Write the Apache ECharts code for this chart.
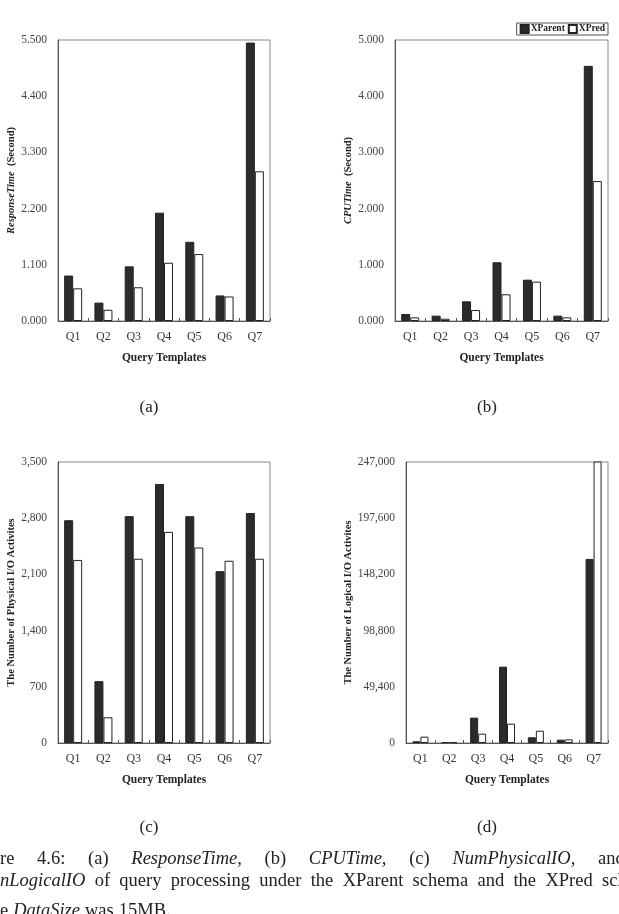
<!DOCTYPE html>
<html lang="en">
<head>
    <meta charset="UTF-8">
    <title>Figure 4.6</title>
    <style>
        * { margin: 0; }
        html, body, #chart { width: 100%; height: 100%; background: #fff; }
    </style>
</head>
<body>
    <div id="chart"></div>
    <script src="https://cdn.jsdelivr.net/npm/echarts@6/dist/echarts.min.js"></script>
    <script>
        var categories = ['Q1', 'Q2', 'Q3', 'Q4', 'Q5', 'Q6', 'Q7'];
        var seriesNames = ['XParent', 'XPred'];

        // (a) ResponseTime (second)
        var respParent = [0.89, 0.36, 1.07, 2.12, 1.55, 0.50, 5.45];
        var respPred = [0.64, 0.22, 0.66, 1.14, 1.31, 0.48, 2.93];
        // (b) CPUTime (second)
        var cpuParent = [0.125, 0.095, 0.35, 1.045, 0.735, 0.095, 4.54];
        var cpuPred = [0.065, 0.04, 0.195, 0.475, 0.70, 0.065, 2.49];
        // (c) physical I/O
        var physParent = [2775, 770, 2825, 3225, 2825, 2140, 2865];
        var physPred = [2280, 320, 2295, 2630, 2435, 2270, 2295];
        // (d) logical I/O (XPred Q7 goes off the top of the axis)
        var logParent = [1500, 800, 22300, 67100, 5000, 2900, 161700];
        var logPred = [5600, 800, 8200, 17000, 10800, 3200, 260000];

        // y axis ranges: max and step
        var yMax = [5.5, 5, 3500, 247000];
        var yStep = [1.1, 1, 700, 49400];

        var yNames = [
            '{i|ResponseTime}{b|  (Second)}',
            '{i|CPUTime}{b|  (Second)}',
            '{b|The Number of Physical I/O Activites}',
            '{b|The Number of Logical I/O Activites}'
        ];
        var panelLabels = ['(a)', '(b)', '(c)', '(d)'];

        // figure caption, cut by the page edges; words marked * are italic
        var capLine1 = ['re', '4.6:', '(a)', '*ResponseTime,', '(b)', '*CPUTime,', '(c)', '*NumPhysicalIO,', 'and'];
        var capLine2 = ['*nLogicalIO', 'of', 'query', 'processing', 'under', 'the', 'XParent', 'schema', 'and', 'the', 'XPred', 'schema'];
        var capLine3 = ['e', '*DataSize', 'was', '15MB.'];

        var chart = echarts.init(document.getElementById('chart'));
        var font = 'Liberation Serif';
        var dark = '#2b2b2f';

        var grids = [
            { left: 58, top: 40, width: 212, height: 281 },
            { left: 395, top: 40, width: 213, height: 281 },
            { left: 58, top: 462, width: 212, height: 281 },
            { left: 406, top: 462, width: 202, height: 281 }
        ];
        var nameGaps = [39, 39, 40, 51];
        var barWidths = [9, 9, 9, 8];
        var data = [
            [respParent, respPred],
            [cpuParent, cpuPred],
            [physParent, physPred],
            [logParent, logPred]
        ];

        function fmtNum(v, i) {
            if (i < 2) return v.toFixed(3);
            return Math.round(v).toString().replace(/\B(?=(\d{3})+(?!\d))/g, ',');
        }

        var xAxis = [], yAxis = [], series = [];
        for (var i = 0; i < 4; i++) {
            grids[i].show = true;
            grids[i].borderColor = '#888';
            grids[i].borderWidth = 1;
            xAxis.push({
                gridIndex: i,
                type: 'category',
                data: categories,
                name: 'Query Templates',
                nameLocation: 'middle',
                nameGap: 31,
                nameTextStyle: { fontFamily: font, fontWeight: 'bold', fontSize: 11.5, color: '#222' },
                axisLine: { lineStyle: { color: '#555' } },
                axisTick: { show: true, inside: true, length: 3, lineStyle: { color: '#555' } },
                axisLabel: { fontFamily: font, fontSize: 12, color: '#333', margin: 10 }
            });
            yAxis.push({
                gridIndex: i,
                type: 'value',
                min: 0,
                max: yMax[i],
                interval: yStep[i],
                name: yNames[i],
                nameLocation: 'middle',
                nameGap: nameGaps[i],
                nameTextStyle: {
                    fontFamily: font, fontSize: 10.5, color: '#222',
                    rich: {
                        i: { fontFamily: font, fontSize: 10.5, fontStyle: 'italic', fontWeight: 'bold', color: '#222' },
                        b: { fontFamily: font, fontSize: 10.5, fontWeight: 'bold', color: '#222' }
                    }
                },
                axisLine: { show: true, lineStyle: { color: '#555' } },
                axisTick: { show: false },
                splitLine: { show: false },
                axisLabel: {
                    fontFamily: font, fontSize: 11.5, color: '#444', margin: 11,
                    formatter: (function (k) { return function (v) { return fmtNum(v, k); }; })(i)
                }
            });
            for (var s = 0; s < 2; s++) {
                series.push({
                    name: seriesNames[s],
                    type: 'bar',
                    xAxisIndex: i,
                    yAxisIndex: i,
                    data: data[i][s],
                    barWidth: barWidths[i],
                    barGap: '0%',
                    clip: true,
                    itemStyle: {
                        color: s === 0 ? dark : '#fff',
                        borderColor: '#222',
                        borderWidth: 1
                    },
                    emphasis: { disabled: true }
                });
            }
        }

        var graphic = [];
        var labelPos = [[149, 408], [487, 408], [149, 828], [487, 828]];
        for (var j = 0; j < 4; j++) {
            graphic.push({
                type: 'text', x: labelPos[j][0], y: labelPos[j][1],
                style: { text: panelLabels[j], font: '17px "Liberation Serif"', fill: '#222', align: 'center', verticalAlign: 'middle' }
            });
        }

        // justify caption words between x=0 and the start of the last word
        var capFont = '18.5px "Liberation Serif"';
        var capItal = 'italic 18.5px "Liberation Serif"';
        var ctx = document.createElement('canvas').getContext('2d');
        function addLine(words, y, lastX) {
            var widths = words.map(function (w) {
                ctx.font = w.charAt(0) === '*' ? capItal : capFont;
                return ctx.measureText(w.replace('*', '')).width;
            });
            var gap = 5;
            if (lastX !== null) {
                var used = 0;
                for (var k = 0; k < words.length - 1; k++) used += widths[k];
                gap = (lastX - used) / (words.length - 1);
            }
            var x = 0;
            words.forEach(function (w, k) {
                var ital = w.charAt(0) === '*';
                graphic.push({
                    type: 'text', x: x, y: y,
                    style: { text: w.replace('*', ''), font: ital ? capItal : capFont, fill: '#222', verticalAlign: 'middle' }
                });
                x += widths[k] + gap;
            });
        }
        addLine(capLine1, 859, 598);
        addLine(capLine2, 881, 602);
        addLine(capLine3, 911, null);

        var option = {
            animation: false,
            backgroundColor: '#fff',
            grid: grids,
            xAxis: xAxis,
            yAxis: yAxis,
            series: series,
            legend: {
                data: seriesNames,
                right: 11,
                top: 23,
                orient: 'horizontal',
                itemWidth: 8,
                itemHeight: 8,
                itemGap: 3,
                padding: [1, 3],
                borderColor: '#555',
                borderWidth: 1,
                icon: 'rect',
                textStyle: { fontFamily: font, fontWeight: 'bold', fontSize: 9.5, color: '#222', padding: [0, 0, 0, -3] }
            },
            graphic: graphic
        };
        chart.setOption(option);
    </script>
</body>
</html>
